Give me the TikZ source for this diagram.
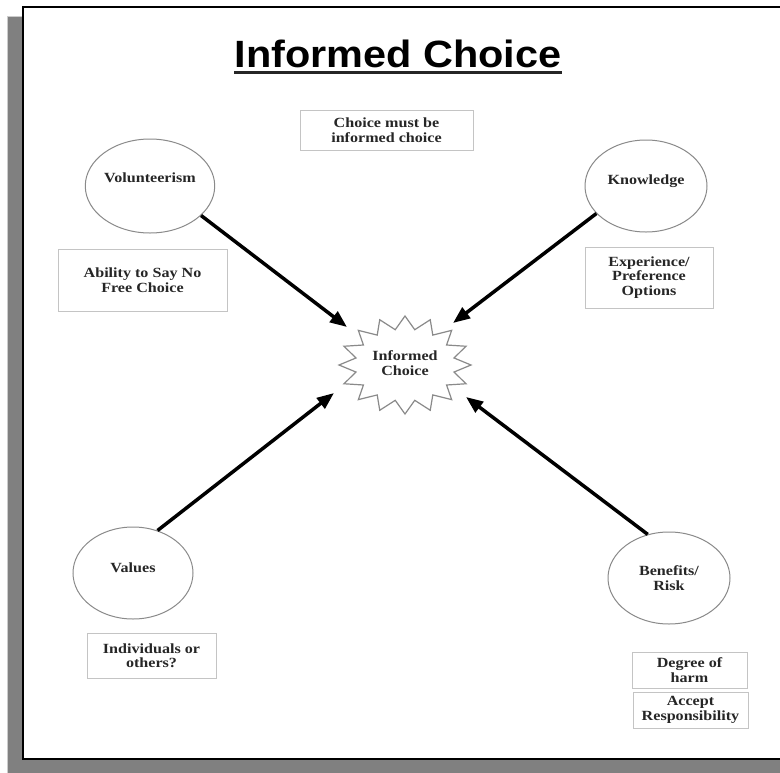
\documentclass[tikz,border=0pt]{standalone}
\usepackage{fontspec}
\usetikzlibrary{shapes.geometric,arrows.meta,calc}
\setmainfont{Liberation Serif}
\newfontfamily\boxfont[FakeStretch=1.15]{Liberation Serif}
\newfontfamily\titlefont[FakeStretch=1.09]{Liberation Sans}
\definecolor{shadowgray}{HTML}{808080}
\definecolor{boxline}{HTML}{C4C4C4}
\definecolor{ellline}{HTML}{8A8A8A}
\begin{document}
\begin{tikzpicture}[x=1pt,y=-1pt,
  txt/.style={font=\boxfont\bfseries\fontsize{14}{14.5}\selectfont, align=center, text=black!85},
  infobox/.style={txt, draw=boxline, line width=0.8pt, inner sep=0pt},
  bubble/.style={txt, ellipse, draw=ellline, line width=1pt, inner sep=0pt},
  bigarrow/.style={line width=3.5pt, -{Triangle[length=17pt,width=13pt]}, black}
]
\useasboundingbox (0,0) rectangle (780,772);
\fill[white] (0,0) rectangle (780,772);
\filldraw[fill=shadowgray, draw=gray!40, line width=1pt] (7,16) rectangle (784,776);
\filldraw[fill=white, draw=black, line width=2pt] (23,7) rectangle (792,759);

% title
\node[font=\titlefont\bfseries\fontsize{38}{40}\selectfont, inner sep=0pt, anchor=base] (title) at (398,67) {Informed Choice};
\draw[line width=3pt, black!85] ([yshift=-5pt]title.base west) -- ([yshift=-5pt]title.base east);

% boxes
\node[infobox, minimum width=173pt, minimum height=40pt] (top) at (386.5,130) {Choice must be\\informed choice};
\node[infobox, minimum width=169pt, minimum height=62pt] (abil) at (142.5,280) {Ability to Say No\\Free Choice};
\node[infobox, minimum width=128pt, minimum height=61pt] (exp) at (649,277.5) {Experience/\\Preference\\Options};
\node[infobox, minimum width=129pt, minimum height=45pt] (indiv) at (151.5,655.5) {Individuals or\\others?};
\node[infobox, minimum width=115pt, minimum height=36pt] (harm) at (689.5,670) {Degree of\\harm};
\node[infobox, minimum width=115pt, minimum height=36pt] (resp) at (690.5,710) {Accept\\Responsibility};

% ellipses
\node[bubble, minimum width=126pt, minimum height=94pt] (vol) at (150,186) {\raisebox{3.3pt}[0pt][0pt]{Volunteerism}};
\node[bubble, minimum width=122pt, minimum height=92pt] (know) at (646,186) {\raisebox{1.5pt}[0pt][0pt]{Knowledge}};
\node[bubble, minimum width=120pt, minimum height=92pt] (val) at (133,573) {\raisebox{0.5pt}[0pt][0pt]{Values}};
\node[bubble, minimum width=122pt, minimum height=92pt] (ben) at (669,578) {Benefits/\\Risk};

% starburst
\draw[ellline, line width=1.2pt, fill=white]
  plot[samples=32, domain=0:31, variable=\k]
  ({405+ifthenelse(mod(round(\k),2)==0,66,50)*cos(\k*11.25+90)},
   {365+ifthenelse(mod(round(\k),2)==0,49,36)*sin(\k*11.25+90)}) -- cycle;
\node[txt] (star) at (405,363) {Informed\\Choice};

% arrows
\coordinate (tipA) at (347,327);
\coordinate (tipB) at (453,323);
\coordinate (tipC) at (334,393);
\coordinate (tipD) at (466,397);
\draw[bigarrow] (vol.-30) -- (tipA);
\draw[bigarrow] (know.-151) -- (tipB);
\draw[bigarrow] (val.60) -- (tipC);
\draw[bigarrow] (ben.116) -- (tipD);
\end{tikzpicture}
\end{document}
